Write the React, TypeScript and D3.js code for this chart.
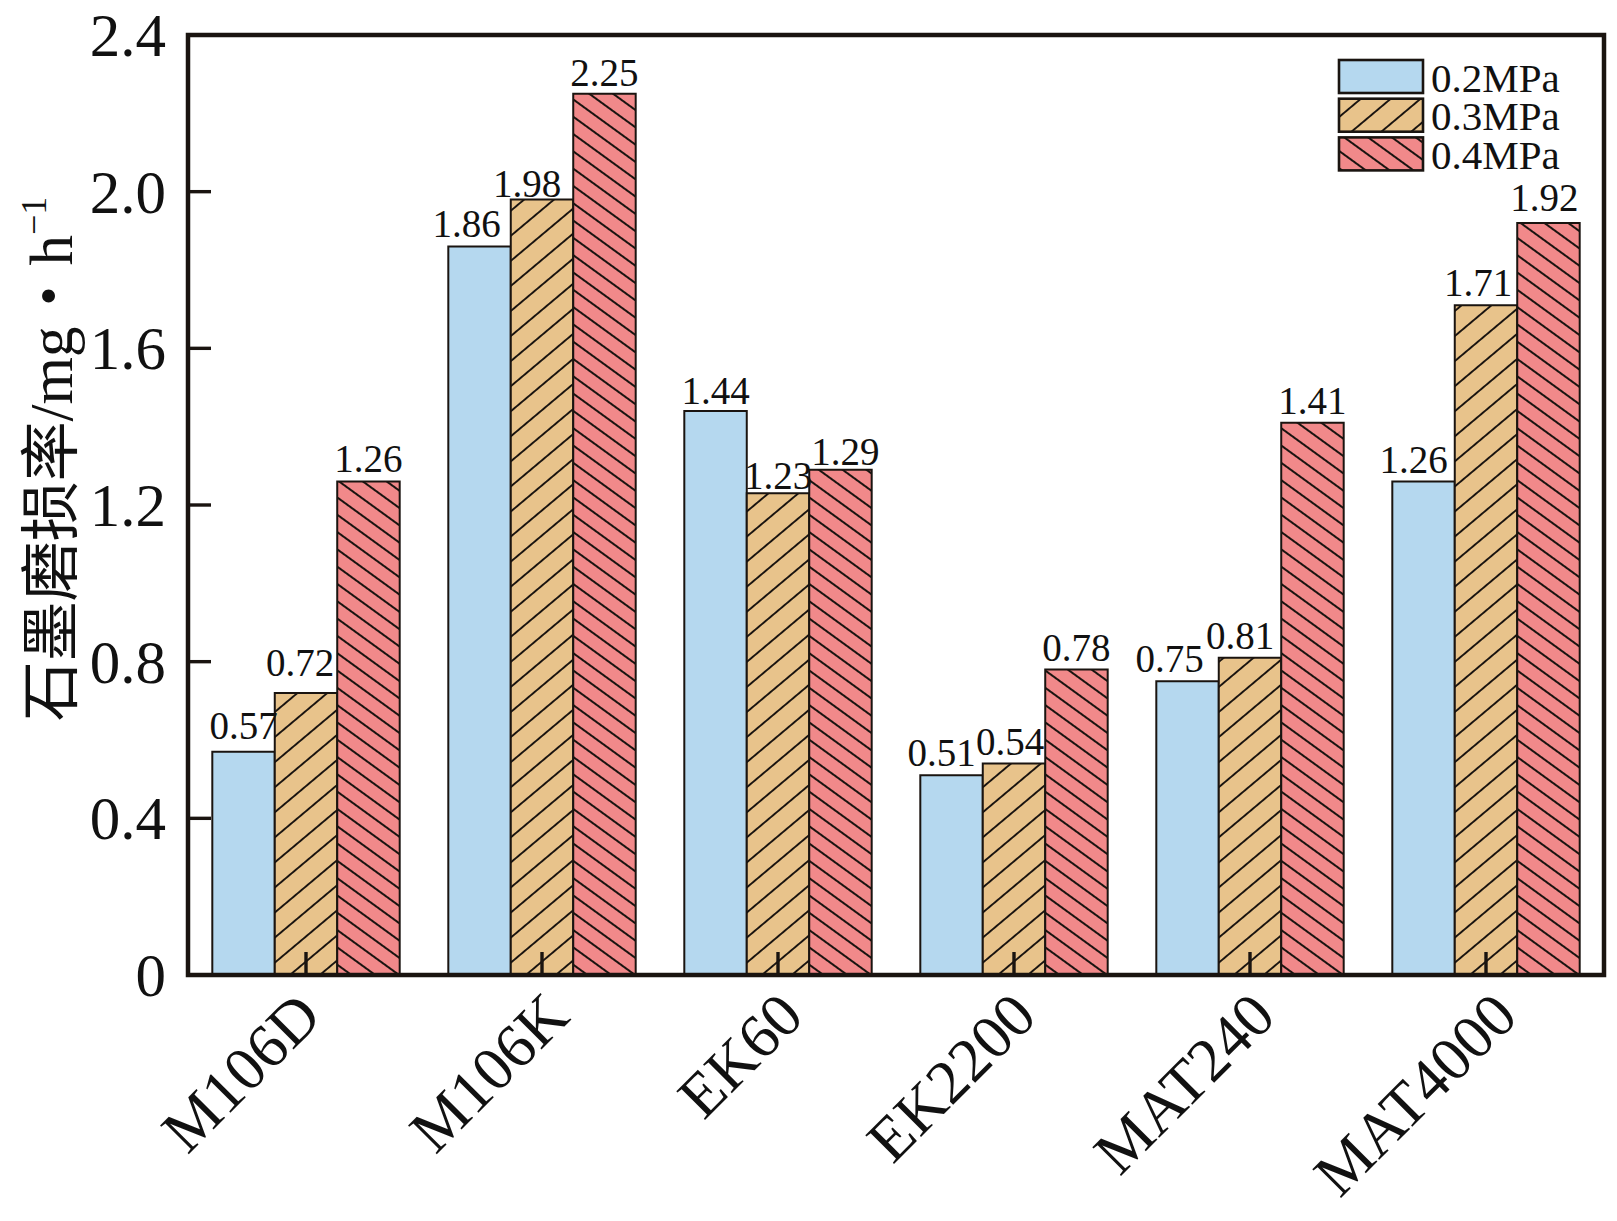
import React from "react";
import * as d3 from "d3";

const categories = ["M106D", "M106K", "EK60", "EK2200", "MAT240", "MAT4000"];
const seriesNames = ["0.2MPa", "0.3MPa", "0.4MPa"];
const s02 = [0.57, 1.86, 1.44, 0.51, 0.75, 1.26];
const s03 = [0.72, 1.98, 1.23, 0.54, 0.81, 1.71];
const s04 = [1.26, 2.25, 1.29, 0.78, 1.41, 1.92];
const seriesValues = [s02, s03, s04];
const yTicks = [0, 0.4, 0.8, 1.2, 1.6, 2.0, 2.4];
const yTickLabels = ["0", "0.4", "0.8", "1.2", "1.6", "2.0", "2.4"];

// label nudges (layout only), per series per category
const labelDx = [
  [0, -13, 0, -10, -18, -10],
  [-6, -15, 0, -4, -10, -8],
  [0, 0, 5, 0, 0, -4],
];
const labelGap = [
  [13, 10, 7, 9, 9, 9],
  [17, 3, 4, 9, 9, 9],
  [10, 8, 5, 9, 9, 12],
];
// category label nudges (layout only)
const catDx = [18, 30, 28, 25, 28, 34];

const W = 1617;
const H = 1221;
const L = 188, R = 1604, T = 35, B = 975;
const colors = ["#b5d8ef", "#e8c38b", "#f1898a"];
const fills = ["#b5d8ef", "url(#hatchO)", "url(#hatchR)"];
const serif = "'Liberation Serif', 'Times New Roman', serif";
const cjk = "'Noto Sans CJK SC', sans-serif";
const ink = "#1a1410";

export default function App() {
  const y = d3.scaleLinear().domain([0, 2.4]).range([B, T]);
  const x0 = d3.scaleBand<string>().domain(categories).range([L, R]).paddingInner(0.206).paddingOuter(0.103);
  const x1 = d3.scaleBand<string>().domain(seriesNames).range([0, x0.bandwidth()]).padding(0);

  return (
    <svg width={W} height={H} style={{ position: "absolute", left: 0, top: 0, background: "#fff" }}>
      <defs>
        <pattern id="hatchO" patternUnits="userSpaceOnUse" width={40} height={19.2} patternTransform="rotate(-40)">
          <rect x={0} y={0} width={40} height={19.2} fill={colors[1]} />
          <line x1={0} y1={9.6} x2={40} y2={9.6} stroke={ink} strokeWidth={1.9} />
        </pattern>
        <pattern id="hatchR" patternUnits="userSpaceOnUse" width={40} height={14} patternTransform="rotate(36)">
          <rect x={0} y={0} width={40} height={14} fill={colors[2]} />
          <line x1={0} y1={7} x2={40} y2={7} stroke={ink} strokeWidth={1.8} />
        </pattern>
      </defs>

      {/* bars */}
      {categories.map((c, ci) => (
        <g key={c} transform={`translate(${x0(c)},0)`}>
          {seriesNames.map((s, si) => {
            const v = seriesValues[si][ci];
            return (
              <rect key={s} x={x1(s)} y={y(v)} width={x1.bandwidth()} height={B - y(v)}
                fill={fills[si]} stroke={ink} strokeWidth={2} />
            );
          })}
        </g>
      ))}

      {/* value labels */}
      {categories.map((c, ci) => (
        <g key={c + "l"}>
          {seriesNames.map((s, si) => {
            const v = seriesValues[si][ci];
            return (
              <text key={s}
                x={(x0(c) as number) + (x1(s) as number) + x1.bandwidth() / 2 + labelDx[si][ci]}
                y={y(v) - labelGap[si][ci]}
                textAnchor="middle" fontFamily={serif} fontSize={39} fill="#111">
                {v.toFixed(2)}
              </text>
            );
          })}
        </g>
      ))}

      {/* y ticks */}
      {yTicks.map((t, i) => (
        <g key={t}>
          <line x1={L} x2={L + 23} y1={y(t)} y2={y(t)} stroke={ink} strokeWidth={3.4} />
          <text x={166} y={y(t) + 21} textAnchor="end" fontFamily={serif} fontSize={61} fill="#111">
            {yTickLabels[i]}
          </text>
        </g>
      ))}

      {/* x ticks and labels */}
      {categories.map((c, ci) => {
        const cx = (x0(c) as number) + x0.bandwidth() / 2;
        return (
          <g key={c + "t"}>
            <line x1={cx} x2={cx} y1={B} y2={B - 23} stroke={ink} strokeWidth={3.4} />
            <text transform={`translate(${cx + catDx[ci]},${B + 44}) rotate(-45)`} textAnchor="end"
              fontFamily={serif} fontSize={62} fill="#111">
              {c}
            </text>
          </g>
        );
      })}

      {/* frame */}
      <rect x={L} y={T} width={R - L} height={B - T} fill="none" stroke={ink} strokeWidth={4.5} />

      {/* legend */}
      {seriesNames.map((s, i) => {
        const top = 60 + i * 38.7;
        return (
          <g key={s}>
            <rect x={1339} y={top} width={84} height={33} fill={fills[i]} stroke={ink} strokeWidth={2.6} />
            <text x={1431} y={top + 31.5} fontFamily={serif} fontSize={41} fill="#111">{s}</text>
          </g>
        );
      })}

      {/* y title */}
      <text transform={`translate(72,459) rotate(-90)`} textAnchor="middle" fill="#111" fontSize={61}>
        <tspan fontFamily={cjk} fontSize={60}>石墨磨损率</tspan>
        <tspan fontFamily={serif}>/mg</tspan>
        <tspan fontFamily={cjk}>·</tspan>
        <tspan fontFamily={serif}>h</tspan>
        <tspan fontFamily={serif} fontSize={36} dy={-26}>−1</tspan>
      </text>
    </svg>
  );
}
